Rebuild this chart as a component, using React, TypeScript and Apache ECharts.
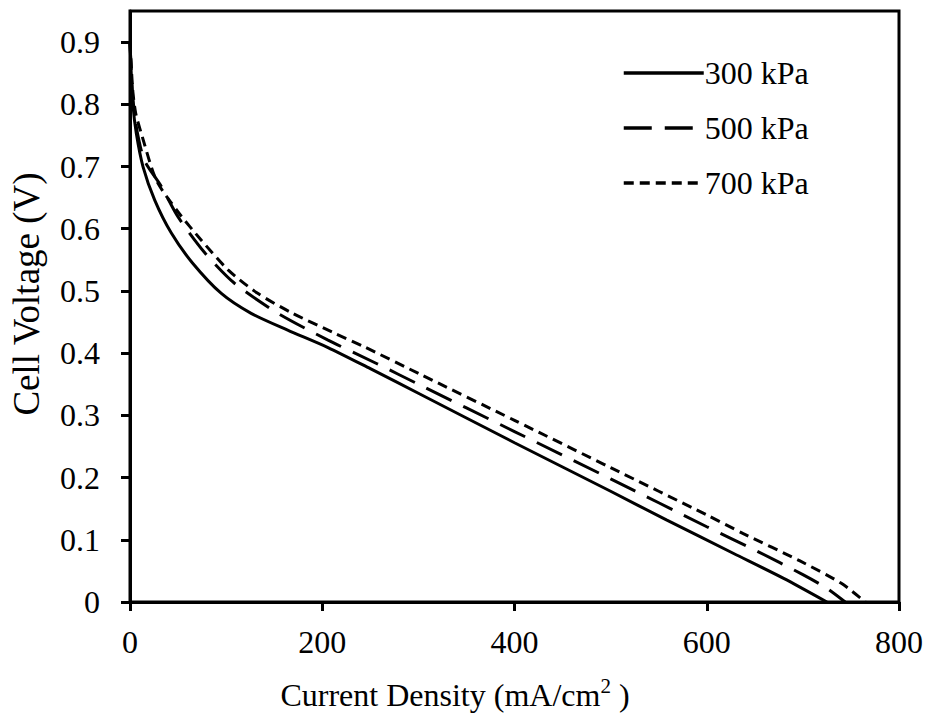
import React, { useEffect, useRef } from "react";
import * as echarts from "echarts";

const seriesNames = ["300 kPa", "500 kPa", "700 kPa"];

const current300 = [0, 1, 3, 6.6, 13.5, 25.7, 43, 65, 95, 126, 164, 206, 250, 302, 400, 500, 558, 628, 680, 725];
const voltage300 = [0.9, 0.86, 0.8, 0.753, 0.7, 0.646, 0.593, 0.545, 0.496, 0.464, 0.437, 0.409, 0.375, 0.334, 0.256, 0.178, 0.132, 0.078, 0.038, 0.0];

const current500 = [0, 1, 3, 7, 15, 32.6, 50, 78, 109, 154, 206, 257, 300, 400, 500, 600, 652, 700, 725, 744];
const voltage500 = [0.9, 0.865, 0.81, 0.76, 0.71, 0.668, 0.619, 0.561, 0.512, 0.464, 0.421, 0.383, 0.35, 0.274, 0.198, 0.121, 0.082, 0.044, 0.022, 0.0];

const current700 = [0, 1, 3, 6, 11.8, 27.4, 50, 74, 102, 132, 168, 213, 244, 302, 400, 500, 600, 638, 697, 740, 765];
const voltage700 = [0.9, 0.87, 0.82, 0.785, 0.753, 0.678, 0.627, 0.582, 0.534, 0.497, 0.465, 0.432, 0.41, 0.366, 0.292, 0.216, 0.14, 0.11, 0.066, 0.03, 0.0];

const yTicks = [0, 0.1, 0.2, 0.3, 0.4, 0.5, 0.6, 0.7, 0.8, 0.9];

const FONT = "'Liberation Serif', 'Times New Roman', Times, serif";

function pairs(xs: number[], ys: number[]) {
  return xs.map((x, i) => [x, ys[i]]);
}

export default function App() {
  const ref = useRef<HTMLDivElement>(null);
  useEffect(() => {
    if (!ref.current) return;
    const chart = echarts.init(ref.current, null, { renderer: "svg" });
    const lineBase = { color: "#000", width: 3 };
    chart.setOption({
      animation: false,
      backgroundColor: "#fff",
      textStyle: { fontFamily: FONT, color: "#000" },
      grid: {
        left: 130,
        right: 29,
        top: 11,
        bottom: 115,
        show: true,
        borderColor: "#000",
        borderWidth: 3,
        outerBoundsMode: "none",
      },
      legend: {
        orient: "vertical",
        left: 622,
        top: 57,
        padding: 0,
        itemWidth: 80,
        itemHeight: 14,
        itemGap: 23,
        data: seriesNames,
        itemStyle: { color: "rgba(0,0,0,0)", borderWidth: 0, opacity: 0 },
        lineStyle: { width: 3.5 },
        textStyle: { fontFamily: FONT, fontSize: 32, color: "#000", padding: [0, 0, 0, -4] },
      },
      xAxis: {
        type: "value",
        min: 0,
        max: 800,
        interval: 200,
        axisLine: { show: true, lineStyle: { color: "#000", width: 3 } },
        axisTick: { show: true, inside: false, length: 9, lineStyle: { color: "#000", width: 3 } },
        axisLabel: { fontFamily: FONT, fontSize: 32, color: "#000", margin: 24 },
        splitLine: { show: false },
      },
      yAxis: {
        type: "value",
        min: 0,
        max: 0.95,
        axisLine: { show: true, onZero: false, lineStyle: { color: "#000", width: 3 } },
        axisTick: {
          show: true,
          inside: false,
          length: 9,
          customValues: yTicks,
          lineStyle: { color: "#000", width: 3 },
        },
        axisLabel: {
          fontFamily: FONT,
          fontSize: 32,
          color: "#000",
          margin: 30,
          customValues: yTicks,
          formatter: (v: number) => (v === 0 ? "0" : v.toFixed(1)),
        },
        splitLine: { show: false },
      },
      graphic: [
        {
          type: "text",
          x: 455,
          y: 693,
          style: {
            text: "{a|Current Density (mA/cm}{s|2}{a| )}",
            align: "center",
            verticalAlign: "middle",
            rich: {
              a: { fontFamily: FONT, fontSize: 32, fill: "#000", lineHeight: 36, verticalAlign: "bottom" },
              s: { fontFamily: FONT, fontSize: 21, fill: "#000", lineHeight: 36, verticalAlign: "top", padding: [0, 0, 12, 0] },
            },
          },
        },
        {
          type: "text",
          x: 26,
          y: 294,
          rotation: Math.PI / 2,
          style: {
            text: "Cell Voltage (V)",
            align: "center",
            verticalAlign: "middle",
            fontFamily: FONT,
            fontSize: 37,
            fill: "#000",
          },
        },
      ],
      series: [
        {
          name: seriesNames[0],
          type: "line",
          data: pairs(current300, voltage300),
          showSymbol: false,
          symbol: "none",
          smooth: 0.25,
          lineStyle: { ...lineBase, type: "solid" },
          itemStyle: { color: "#000" },
        },
        {
          name: seriesNames[1],
          type: "line",
          data: pairs(current500, voltage500),
          showSymbol: false,
          symbol: "none",
          smooth: 0.25,
          lineStyle: { ...lineBase, type: [28, 13] },
          itemStyle: { color: "#000" },
        },
        {
          name: seriesNames[2],
          type: "line",
          data: pairs(current700, voltage700),
          showSymbol: false,
          symbol: "none",
          smooth: 0.25,
          lineStyle: { ...lineBase, type: [10, 6] },
          itemStyle: { color: "#000" },
        },
      ],
    });
    return () => chart.dispose();
  }, []);
  return (
    <div
      ref={ref}
      style={{ position: "fixed", left: 0, top: 0, width: 928, height: 717, background: "#fff" }}
    />
  );
}
